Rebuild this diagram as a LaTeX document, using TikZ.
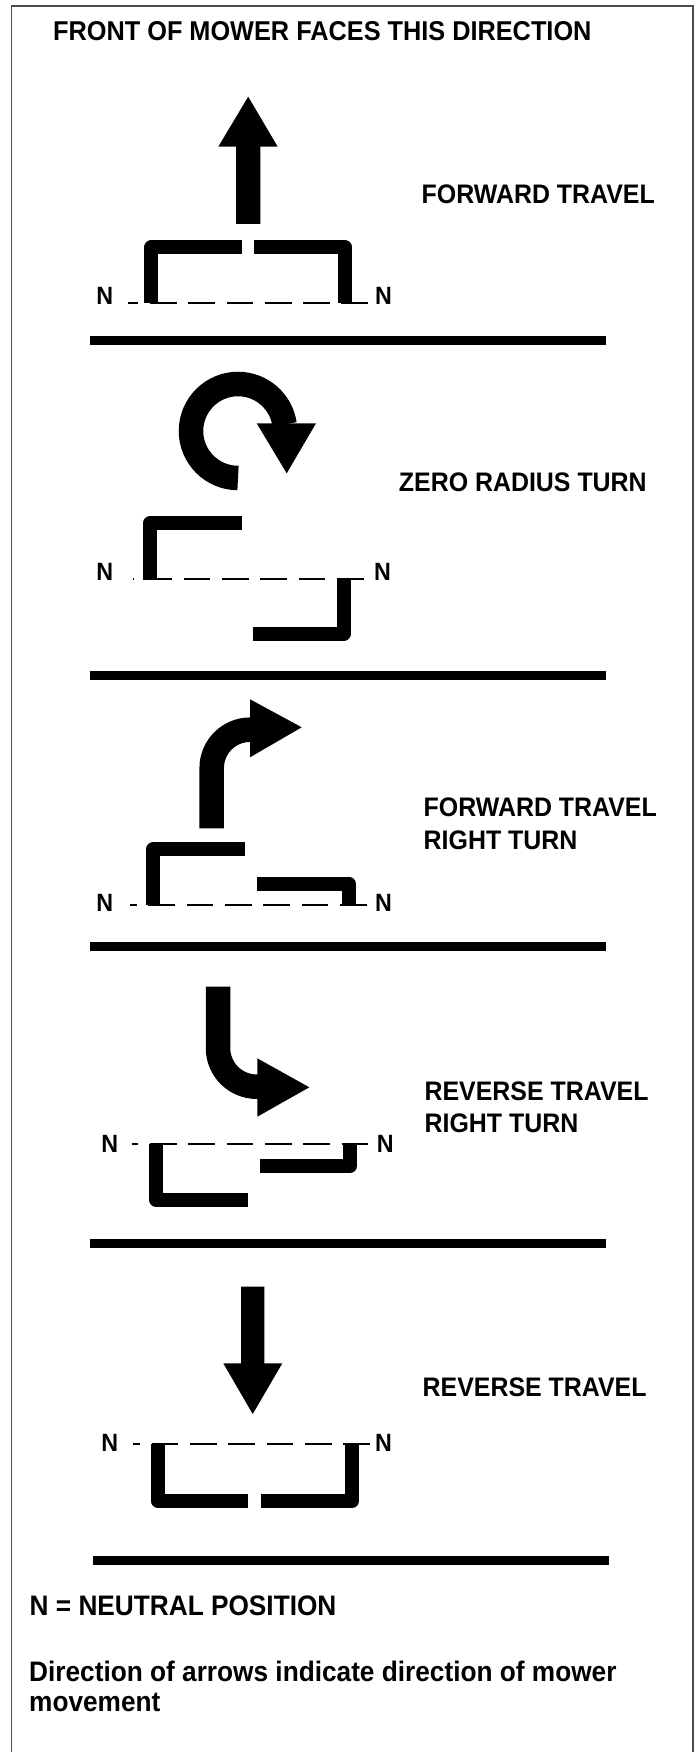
\documentclass[tikz,border=0pt]{standalone}
\usepackage{fontspec}
\setmainfont{Liberation Sans}[FakeStretch=0.93]
\begin{document}
\begin{tikzpicture}[x=1pt,y=-1pt,
  frame/.style={draw=black!70, line width=1.5pt},
  bracketline/.style={line width=14pt, line join=round, line cap=butt},
  bendline/.style={line width=24.5pt, line cap=butt},
  sepline/.style={line width=9pt},
  dashline/.style={line width=2pt, dash pattern=on 26.7pt off 11.6pt, dash phase=#1},
  nlabel/.style={font=\fontsize{25}{25}\selectfont\bfseries, inner sep=0pt},
  caption/.style={font=\fontsize{26.8}{32.4}\selectfont\bfseries, inner sep=0pt, align=left},
  titletext/.style={font=\fontsize{27.2}{29}\selectfont\bfseries, inner sep=0pt, anchor=base west},
  notetext/.style={font=\fontsize{28.2}{30.5}\selectfont\bfseries, inner sep=0pt, align=left}
]
\useasboundingbox (0,0) rectangle (698,1752);
% outer frame (open at bottom)
\draw[frame] (11.5,1752) -- (11.5,6) -- (693,6) -- (693,1752);

% title
\node[titletext] (title) at (53,41) {FRONT OF MOWER FACES THIS DIRECTION};

% ---------- panel 1: forward travel ----------
\fill (236,224) -- (236,146.7) -- (218.3,146.7) -- (248.2,96.7) -- (277.7,146.7) -- (260.3,146.7) -- (260.3,224) -- cycle;
\draw[bracketline] (151.3,302.7) -- (151.3,247.5) -- (242.3,247.5);
\draw[bracketline] (254.3,247.5) -- (345,247.5) -- (345,302.7);
\node[nlabel, anchor=base west] (nA1) at (96.2,305) {N};
\node[nlabel, anchor=base west] (nA2) at (375,305) {N};
\coordinate (dA1) at (128,302.7);
\coordinate (dA2) at (371.7,302.7);
\draw[dashline=16.4pt] (dA1) -- (dA2);
\node[caption, anchor=base west] (lblA) at (421.5,203.3) {FORWARD TRAVEL};
\draw[sepline] (90,340) -- (606,340);

% ---------- panel 2: zero radius turn ----------
\draw[bendline] (238,478) arc[start angle=90, end angle=352, radius=47];
\fill (256.7,423.3) -- (316,423.3) -- (286.7,473.3) -- cycle;
\draw[bracketline] (150.3,580) -- (150.3,522.8) -- (242.3,522.8);
\draw[bracketline] (343.7,578.5) -- (343.7,633.8) -- (253.3,633.8);
\node[nlabel, anchor=base west] (nB1) at (96.2,580.7) {N};
\node[nlabel, anchor=base west] (nB2) at (374,580.7) {N};
\coordinate (dB1) at (133,579);
\coordinate (dB2) at (368,579);
\draw[dashline=26pt] (dB1) -- (dB2);
\node[caption, anchor=base west] (lblB) at (398.7,491) {ZERO RADIUS TURN};
\draw[sepline] (90,675) -- (606,675);

% ---------- panel 3: forward travel right turn ----------
\draw[bendline] (211.7,828.3) -- (211.7,768) arc[start angle=180, end angle=270, radius=38.3] -- (251,729.7);
\fill (250,699.3) -- (301.7,727.3) -- (250,757.3) -- cycle;
\draw[bracketline] (153.3,905) -- (153.3,849.2) -- (245,849.2);
\draw[bracketline] (257.3,883.7) -- (348.8,883.7) -- (348.8,905);
\node[nlabel, anchor=base west] (nC1) at (96.2,911.5) {N};
\node[nlabel, anchor=base west] (nC2) at (375,911.5) {N};
\coordinate (dC1) at (130,905);
\coordinate (dC2) at (370,905);
\draw[dashline=19.9pt] (dC1) -- (dC2);
\node[caption, anchor=north west] (lblC) at (423.5,797.9) {FORWARD TRAVEL\\RIGHT TURN};
\draw[sepline] (89.5,946) -- (606,946);

% ---------- panel 4: reverse travel right turn ----------
\draw[bendline] (218,986.7) -- (218,1048) arc[start angle=180, end angle=90, radius=38.7] -- (258,1086.7);
\fill (257.3,1058.3) -- (309.3,1087.3) -- (257.3,1116.7) -- cycle;
\draw[bracketline] (156.3,1144) -- (156.3,1200) -- (247.7,1200);
\draw[bracketline] (350.3,1144) -- (350.3,1165.7) -- (260,1165.7);
\node[nlabel, anchor=base west] (nD1) at (101.2,1152.5) {N};
\node[nlabel, anchor=base west] (nD2) at (376.7,1152.5) {N};
\coordinate (dD1) at (131.7,1144.3);
\coordinate (dD2) at (372,1144.3);
\draw[dashline=20pt] (dD1) -- (dD2);
\node[caption, anchor=north west] (lblD) at (424.4,1081.6) {REVERSE TRAVEL\\RIGHT TURN};
\draw[sepline] (90,1243) -- (606,1243);

% ---------- panel 5: reverse travel ----------
\fill (241,1286.7) -- (241,1363.3) -- (223.3,1363.3) -- (252.7,1414) -- (282.3,1363.3) -- (264.3,1363.3) -- (264.3,1286.7) -- cycle;
\draw[bracketline] (157.8,1444) -- (157.8,1500.8) -- (247.7,1500.8);
\draw[bracketline] (261,1500.8) -- (352.2,1500.8) -- (352.2,1444);
\node[nlabel, anchor=base west] (nE1) at (101.2,1451.5) {N};
\node[nlabel, anchor=base west] (nE2) at (375,1451.5) {N};
\coordinate (dE1) at (133.3,1444);
\coordinate (dE2) at (372,1444);
\draw[dashline=20pt] (dE1) -- (dE2);
\node[caption, anchor=base west] (lblE) at (422.5,1396.5) {REVERSE TRAVEL};
\draw[sepline] (92.5,1560.5) -- (608.5,1560.5);

% ---------- notes ----------
\node[notetext, anchor=base west] (note1) at (29.5,1615) {N = NEUTRAL POSITION};
\node[notetext, anchor=north west] (note2) at (29,1660.6) {Direction of arrows indicate direction of mower\\movement};
\end{tikzpicture}
\end{document}
